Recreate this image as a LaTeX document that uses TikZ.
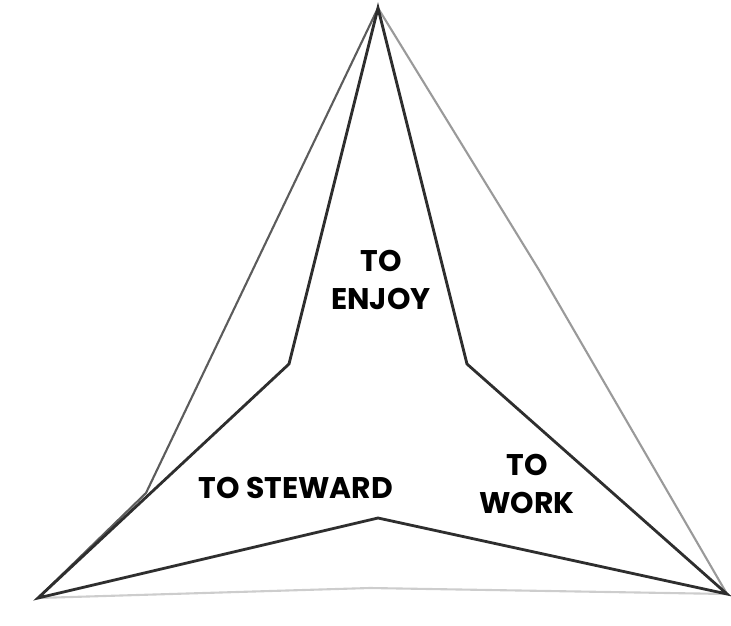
\documentclass[tikz,border=0pt]{standalone}
\usepackage{fontspec}
\setmainfont{Poppins}
\usepackage{xcolor,tikz}
\usetikzlibrary{positioning,calc}
\definecolor{starInnerLine}{HTML}{2E2E2E}
\definecolor{starLeftLine}{HTML}{5C5C5C}
\definecolor{starRightLine}{HTML}{9A9A9A}
\definecolor{starBottomLine}{HTML}{CDCDCD}
\tikzset{
  inner edge/.style={
    draw=starInnerLine, line width=1.6pt,
    line join=miter,
  },
  outer edge/.style={
    draw=#1, line width=1.2pt,
    line join=miter,
  },
  role label/.style={
    font=\fontsize{17}{22}\selectfont\bfseries,
    align=center, text=black,
    inner sep=0pt,
  },
}
\begin{document}
\begin{tikzpicture}[x=0.02cm, y=-0.02cm]

% --- canvas: 731 x 626 px, y runs down ---
\useasboundingbox (0,0) rectangle (731,626);

% --- the three tips of the star ---
\coordinate (tipTop)   at (378,8);
\coordinate (tipLeft)  at (38,598);
\coordinate (tipRight) at (727,594);

% --- inner bends ---
\coordinate (bendLeft)   at (289,364);
\coordinate (bendRight)  at (467,364);
\coordinate (bendBottom) at (378,518);

% --- outer bends ---
\coordinate (outLeft)   at (146,493);
\coordinate (outRight)  at (539,270);
\coordinate (outBottom) at (370,588);

% Outer hull (three shades of gray)
\draw[outer edge=starBottomLine] (tipLeft) -- (outBottom) -- (tipRight);
\draw[outer edge=starRightLine]  (tipTop) -- (outRight) -- (tipRight);
\draw[outer edge=starLeftLine]   (tipTop) -- (outLeft) -- (tipLeft);

% Inner star
\draw[inner edge] (tipTop) -- (bendLeft) -- (tipLeft) -- (bendBottom)
  -- (tipRight) -- (bendRight) -- cycle;

% Labels
\node[role label] (enjoy)   at (381,280) {TO\\ENJOY};
\node[role label] (steward) at (296,488) {TO STEWARD};
\node[role label] (work)    at (527,484) {TO\\WORK};

\end{tikzpicture}
\end{document}
